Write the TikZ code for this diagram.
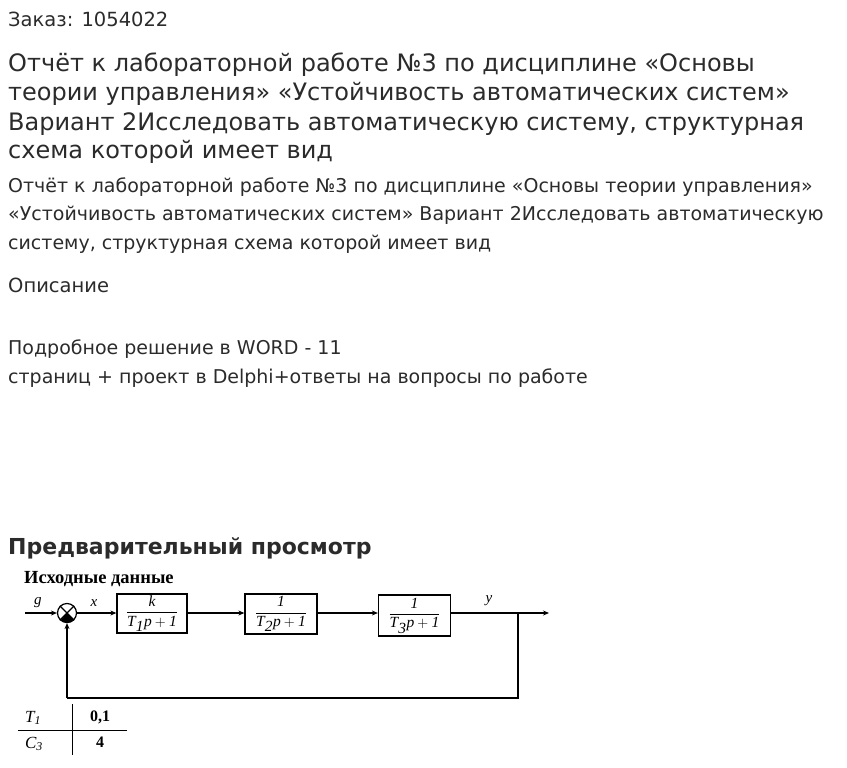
\documentclass[tikz,border=0pt]{standalone}
\usepackage{fontspec}
\setmainfont{DejaVu Sans}
\newfontfamily\tnr{Liberation Serif}
\usetikzlibrary{arrows.meta}
\definecolor{txt}{HTML}{2B2B2B}
\begin{document}
\begin{tikzpicture}[x=1pt,y=-1pt,
  txtline/.style={anchor=base west,inner sep=0pt,text=txt},
  blk/.style={draw,line width=1.3pt,inner sep=0pt},
  sig/.style={line width=1.2pt,-{Stealth[length=6pt,width=5pt]}},
  wire/.style={line width=1.2pt},
  lbl/.style={font=\tnr\itshape\fontsize{15}{15}\selectfont,inner sep=0pt},
  tab/.style={font=\tnr\fontsize{16}{16}\selectfont,inner sep=0pt,anchor=base},
  frac/.style={font=\tnr\itshape\fontsize{15.5}{15.5}\selectfont,inner sep=0pt}
]
\useasboundingbox[fill=white] (0,0) rectangle (847,768);

\node[txtline,font=\fontsize{19.5}{19.5}\selectfont] (order) at (8,27) {Заказ: 1054022};

\node[txtline,font=\fontsize{24}{24}\selectfont] (t1) at (8,72) {Отчёт к лабораторной работе №3 по дисциплине «Основы};
\node[txtline,font=\fontsize{24}{24}\selectfont] (t2) at (8,101) {теории управления» «Устойчивость автоматических систем»};
\node[txtline,font=\fontsize{24}{24}\selectfont] (t3) at (8,130) {Вариант 2Исследовать автоматическую систему, структурная};
\node[txtline,font=\fontsize{24}{24}\selectfont] (t4) at (8,158) {схема которой имеет вид};

\node[txtline,font=\fontsize{19}{19}\selectfont] (b1) at (8,192) {Отчёт к лабораторной работе №3 по дисциплине «Основы теории управления»};
\node[txtline,font=\fontsize{19}{19}\selectfont] (b2) at (8,220) {«Устойчивость автоматических систем» Вариант 2Исследовать автоматическую};
\node[txtline,font=\fontsize{19}{19}\selectfont] (b3) at (8,249) {систему, структурная схема которой имеет вид};

\node[txtline,font=\fontsize{19.5}{19.5}\selectfont] (desc) at (8,292) {Описание};
\node[txtline,font=\fontsize{19}{19}\selectfont] (d1) at (8,354) {Подробное решение в WORD - 11};
\node[txtline,font=\fontsize{19}{19}\selectfont] (d2) at (8,383) {страниц + проект в Delphi+ответы на вопросы по работе};

\node[txtline,font=\bfseries\fontsize{22}{22}\selectfont] (prev) at (8,554) {Предварительный просмотр};

% diagram
\node[anchor=base west,inner sep=0pt,font=\tnr\bfseries\fontsize{18.5}{18.5}\selectfont] (src) at (24,583) {Исходные данные};

\coordinate (gin) at (25,613);
\node[circle,draw,line width=1.2pt,minimum size=19pt,inner sep=0pt] (sum) at (67,613) {};
\fill (sum.center) -- (sum.-45) arc (-45:-135:9.5pt) -- cycle;
\draw[line width=1.2pt] (sum.45) -- (sum.-135) (sum.135) -- (sum.-45);

\node[blk,minimum width=70pt,minimum height=39pt] (w1) at (152,613.5) {};
\node[blk,minimum width=72pt,minimum height=40pt] (w2) at (281,614) {};
\node[blk,minimum width=72pt,minimum height=41pt] (w3) at (414.5,615.5) {};

\node[frac] (f1) at (w1.center) {$\displaystyle\frac{\textit{k}}{\textit{T}_{\textit{1}}\textit{p}+\textit{1}}$};
\node[frac] (f2) at (w2.center) {$\displaystyle\frac{\textit{1}}{\textit{T}_{\textit{2}}\textit{p}+\textit{1}}$};
\node[frac] (f3) at (w3.center) {$\displaystyle\frac{\textit{1}}{\textit{T}_{\textit{3}}\textit{p}+\textit{1}}$};

\coordinate (yout) at (549,613);
\coordinate (br) at (518,613);
\coordinate (brd) at (518,698);
\coordinate (fbl) at (67,698);

\draw[sig] (gin) -- (sum.west);
\draw[sig] (sum.east) -- (w1.west |- sum.east);
\draw[sig] (w1.east |- 0,613) -- (w2.west |- 0,613);
\draw[sig] (w2.east |- 0,613) -- (w3.west |- 0,613);
\draw[sig] (w3.east |- 0,613) -- (yout);
\draw[wire] (br) -- (brd) -- (fbl);
\draw[sig] (fbl) -- (sum.south);

\node[lbl] (lg) at (38,603) {g};
\node[lbl] (lx) at (94,603) {x};
\node[lbl] (ly) at (489,601) {y};

% table
\coordinate (tv1) at (72,704);
\coordinate (tv2) at (72,755);
\coordinate (th1) at (18,730);
\coordinate (th2) at (127,730);
\draw[line width=0.8pt] (tv1) -- (tv2);
\draw[line width=0.8pt] (th1) -- (th2);
\node[tab,font=\tnr\itshape\fontsize{17}{17}\selectfont] (T1) at (33,722) {T\textsubscript{1}};
\node[tab,font=\tnr\bfseries\fontsize{16}{16}\selectfont] (v1) at (100,721) {0,1};
\node[tab,font=\tnr\itshape\fontsize{17}{17}\selectfont] (C3) at (34,748) {C\textsubscript{3}};
\node[tab,font=\tnr\bfseries\fontsize{16}{16}\selectfont] (v2) at (100,747) {4};
\end{tikzpicture}
\end{document}
